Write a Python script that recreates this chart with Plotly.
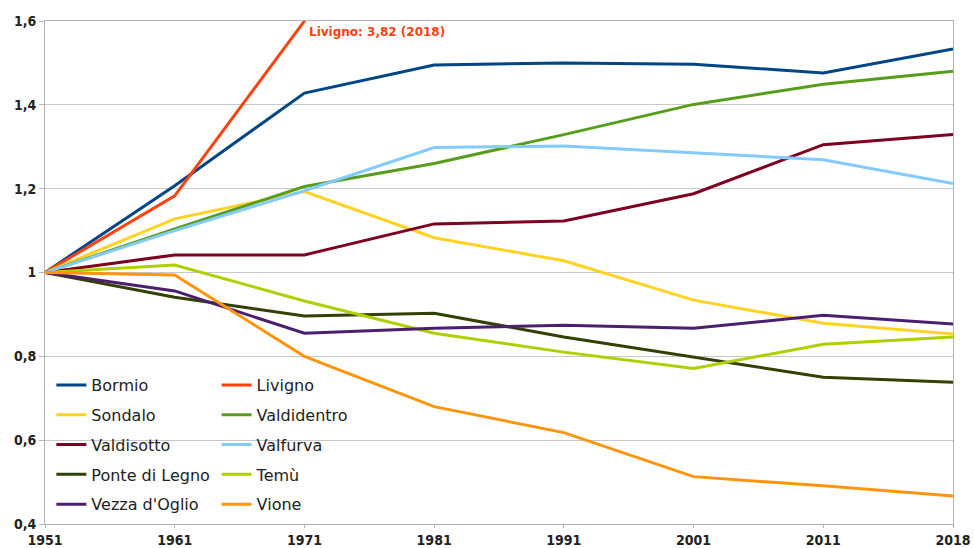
import plotly.graph_objects as go

years = ["1951", "1961", "1971", "1981", "1991", "2001", "2011", "2018"]

bormio = [1, 1.207, 1.428, 1.495, 1.500, 1.497, 1.476, 1.533]
livigno = [1, 1.183, 1.600, 2.20, 2.60, 3.00, 3.50, 3.82]
sondalo = [1, 1.128, 1.193, 1.083, 1.028, 0.934, 0.879, 0.853]
valdidentro = [1, 1.104, 1.205, 1.260, 1.329, 1.401, 1.449, 1.480]
valdisotto = [1, 1.042, 1.042, 1.116, 1.123, 1.188, 1.305, 1.329]
valfurva = [1, 1.100, 1.195, 1.298, 1.302, 1.286, 1.269, 1.212]
ponte_di_legno = [1, 0.941, 0.896, 0.903, 0.846, 0.798, 0.750, 0.738]
temu = [1, 1.018, 0.932, 0.855, 0.810, 0.771, 0.829, 0.846]
vezza = [1, 0.956, 0.855, 0.867, 0.874, 0.867, 0.898, 0.877]
vione = [1, 0.994, 0.800, 0.680, 0.618, 0.513, 0.491, 0.467]

series = [
    ("Bormio", bormio, "#004586", "legend"),
    ("Livigno", livigno, "#ff420e", "legend2"),
    ("Sondalo", sondalo, "#ffd320", "legend"),
    ("Valdidentro", valdidentro, "#579d1c", "legend2"),
    ("Valdisotto", valdisotto, "#7e0021", "legend"),
    ("Valfurva", valfurva, "#83caff", "legend2"),
    ("Ponte di Legno", ponte_di_legno, "#314004", "legend"),
    ("Temù", temu, "#aecf00", "legend2"),
    ("Vezza d'Oglio", vezza, "#4b1f6f", "legend"),
    ("Vione", vione, "#ff950e", "legend2"),
]

fig = go.Figure()
for name, vals, color, lg in series:
    fig.add_trace(go.Scatter(
        x=years, y=vals, name=name, mode="lines",
        line=dict(color=color, width=3),
        legend=lg, legendgroup=name,
    ))

legend_common = dict(
    bgcolor="rgba(255,255,255,0)",
    font=dict(family="DejaVu Sans", size=16, color="#222222"),
    tracegroupgap=6,
    itemwidth=30,
    yanchor="top",
    xanchor="left",
)

tick_font = dict(family="DejaVu Sans Condensed, DejaVu Sans", size=14,
                 weight="bold", color="#222222")

fig.update_layout(
    width=974, height=548,
    margin=dict(l=45, r=21, t=21, b=24, autoexpand=False),
    paper_bgcolor="white", plot_bgcolor="white",
    separators=",.",
    font=dict(family="DejaVu Sans", color="#222222"),
    legend=dict(x=0.007, y=0.31, **legend_common),
    legend2=dict(x=0.189, y=0.31, **legend_common),
    xaxis=dict(
        type="category", range=[0, 7], automargin=False,
        showgrid=False, showline=True, mirror=True,
        linecolor="#b3b3b3", linewidth=1,
        ticks="outside", ticklen=3, tickcolor="#b3b3b3",
        tickfont=tick_font,
    ),
    yaxis=dict(
        range=[0.4, 1.6], dtick=0.2, tick0=0.4, automargin=False,
        showgrid=True, gridcolor="#c8c8c8", gridwidth=1,
        showline=True, mirror=True, linecolor="#b3b3b3", linewidth=1,
        ticks="outside", ticklen=5, tickcolor="#b3b3b3",
        tickfont=tick_font,
        zeroline=False,
    ),
    annotations=[dict(
        x=2, y=1.6, xref="x", yref="y",
        text="<b>Livigno: 3,82 (2018)</b>",
        showarrow=False, xanchor="left", yanchor="top",
        xshift=3, yshift=-2,
        font=dict(family="DejaVu Sans", size=12, color="#ff420e"),
    )],
)

fig.write_html(
    "out.html",
    config={"displayModeBar": False},
    post_script="document.body.style.margin='0';document.body.style.overflow='hidden';",
)
